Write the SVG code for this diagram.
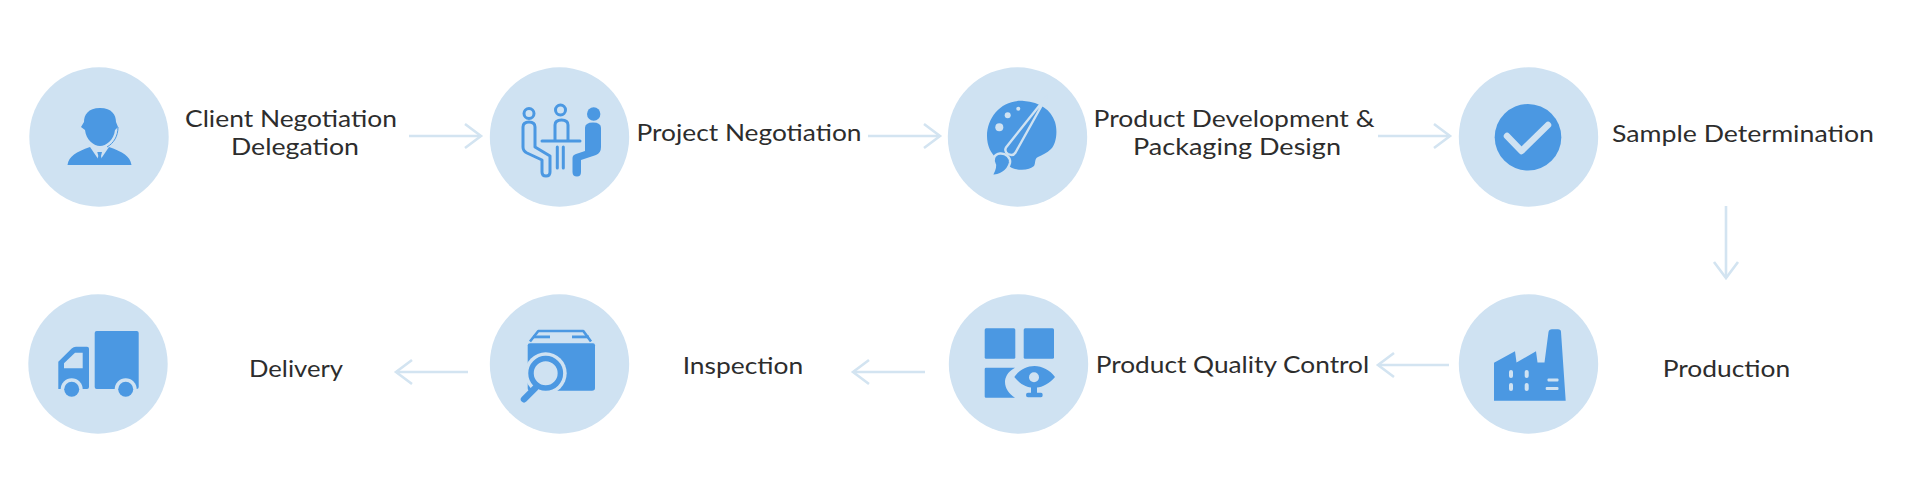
<svg xmlns="http://www.w3.org/2000/svg" width="1920" height="500" viewBox="0 0 1920 500">
<style>
.disc{fill:#cfe2f2}
.ic{fill:#4b98e2}
.lt{fill:#cfe2f2}
.ol{fill:none;stroke:#4b98e2;stroke-width:3;stroke-linejoin:round;stroke-linecap:round}
.lb{font-family:"Lato","Noto Sans",sans-serif;font-size:23.2px;fill:#2d2d2d}
.cn{fill:none;stroke:#d3e4f1;stroke-width:2.6;marker-end:url(#ah)}
</style>
<defs>
<marker id="ah" markerUnits="userSpaceOnUse" markerWidth="24" markerHeight="32" refX="19" refY="16" orient="auto" overflow="visible">
<path d="M3 4L19 16L3 28" fill="none" stroke="#d3e4f1" stroke-width="2.6"/>
</marker>
</defs>
<rect width="1920" height="500" fill="#ffffff"/>
<g id="connectors">
<path class="cn" d="M409 136H481"/>
<path class="cn" d="M868 136H940"/>
<path class="cn" d="M1378 136H1450"/>
<path class="cn" d="M1726 206V278"/>
<path class="cn" d="M1449 365H1378"/>
<path class="cn" d="M925 372H853"/>
<path class="cn" d="M468 372H396"/>
</g>
<g id="node-client-negotiation">
<circle class="disc" cx="99" cy="137" r="69.7"/>
<path class="ic" d="M100 108C88 108 84 115 84 122L81 127L85 130C86 140 94 146 100 146C106 146 114 140 115 130L118 127L116 122C116 115 112 108 100 108Z"/>
<path class="ic" d="M67.5 165C69 156 76 152 90 147L99.5 161L109 147C123 152 130 156 131.5 165Z"/>
<path class="ic" d="M97.3 152H102L101 156L102.5 162H96.5L98.3 156Z"/>
<path d="M118 127C118 136 114 143 107 147" fill="none" stroke="#4b98e2" stroke-width="1"/>
<text class="lb" x="185" y="127" textLength="212" lengthAdjust="spacingAndGlyphs">Client Negotiation</text>
<text class="lb" x="231" y="155" textLength="128" lengthAdjust="spacingAndGlyphs">Delegation</text>
</g>
<g id="node-project-negotiation">
<circle class="disc" cx="559.5" cy="137" r="69.7"/>
<circle class="ol" cx="529" cy="113.5" r="5"/>
<circle class="ol" cx="560.5" cy="110" r="5"/>
<circle class="ic" cx="593.7" cy="114" r="6.7"/>
<path class="ol" d="M523 127Q523 122 529 122Q535 122 535 127V147L550 156V172Q550 176 546 176Q542 176 542 172V160L527 153Q523 151 523 147Z"/>
<path class="ol" d="M555 140V125Q555 120 561.5 120Q568 120 568 125V140"/>
<path class="ol" d="M542 141H580M557.3 147V168M563.3 147V168"/>
<path class="ic" d="M585 128Q585 122.5 593 122.5Q601 122.5 601 128V147Q601 153 596 155L581 160V172Q581 176.5 577 176.5Q572.5 176.5 572.5 172V158Q572.5 155 576 154L585 151Z"/>
<text class="lb" x="636.5" y="140.5" textLength="225" lengthAdjust="spacingAndGlyphs">Project Negotiation</text>
</g>
<g id="node-product-development">
<circle class="disc" cx="1017.5" cy="137" r="69.7"/>
<path class="ic" d="M1024 101C1003 99 987 116 987 136C987 146 991 153 996 158L1012 168C1020 171 1030 170 1034 166C1036 163 1034 159 1038 157C1042 155 1047 153 1051 149C1056 144 1058 132 1055 122C1051 110 1040 102 1024 101Z"/>
<path class="ic" stroke="#cfe2f2" stroke-width="2.4" stroke-linejoin="round" d="M1047 96L1015.5 152.5Q1013 156.5 1008 154Q1004 151.5 1006 147.5Z"/>
<path class="ic" stroke="#cfe2f2" stroke-width="2.4" d="M1000 153.5C994 154 992 160 995 165C995 170 993 173 991 176C1000 176 1008 171 1010 163C1011 158 1006 153 1000 153.5Z"/>
<circle class="lt" cx="999.3" cy="127.3" r="4"/>
<circle class="lt" cx="1007.7" cy="115.3" r="3"/>
<circle class="lt" cx="1018.3" cy="108.7" r="2"/>
<text class="lb" x="1093.5" y="127" textLength="281" lengthAdjust="spacingAndGlyphs">Product Development &amp;</text>
<text class="lb" x="1133" y="155" textLength="208" lengthAdjust="spacingAndGlyphs">Packaging Design</text>
</g>
<g id="node-sample-determination">
<circle class="disc" cx="1528.5" cy="137" r="69.7"/>
<circle class="ic" cx="1528" cy="137.3" r="33.3"/>
<path d="M1507 136L1521.5 151L1548 125" fill="none" stroke="#cfe2f2" stroke-width="6.5" stroke-linecap="round" stroke-linejoin="round"/>
<text class="lb" x="1612" y="142" textLength="262" lengthAdjust="spacingAndGlyphs">Sample Determination</text>
</g>
<g id="node-production">
<circle class="disc" cx="1528.5" cy="364" r="69.7"/>
<path class="ic" d="M1494 400.7V362.7L1515 351.3L1516.5 362.5L1536 351.3L1537.5 362.5H1544.5L1548.5 332Q1549 329.3 1552 329.3H1558Q1561 329.3 1561 332L1565.7 400.7Z"/>
<rect class="lt" x="1509" y="370" width="4" height="8" rx="2"/>
<rect class="lt" x="1524.7" y="370" width="4" height="8" rx="2"/>
<rect class="lt" x="1509" y="383" width="4" height="8" rx="2"/>
<rect class="lt" x="1524.7" y="383" width="4" height="8" rx="2"/>
<rect class="lt" x="1547.5" y="378.5" width="11" height="3" rx="1"/>
<rect class="lt" x="1545.7" y="387" width="12.8" height="3" rx="1"/>
<text class="lb" x="1662.7" y="376.5" textLength="127.5" lengthAdjust="spacingAndGlyphs">Production</text>
</g>
<g id="node-product-quality-control">
<circle class="disc" cx="1018.5" cy="364" r="69.7"/>
<rect class="ic" x="984.7" y="328.3" width="30.6" height="30.4" rx="1.5"/>
<rect class="ic" x="1023.7" y="328.3" width="30.3" height="30.4" rx="1.5"/>
<path class="ic" d="M986 367.7H1015C1007 372 1005 378 1005 382C1005 388 1009 394 1015 397.7H986Q984.7 397.7 984.7 396.4V369Q984.7 367.7 986 367.7Z"/>
<path class="ic" d="M1014.3 377C1019 370 1027 366 1034.5 366C1042 366 1050 370 1055 377C1050 383 1042 387.5 1037 387.5V392.7H1041Q1042.7 392.7 1042.7 395Q1042.7 397.3 1041 397.3H1028Q1026 397.3 1026 395Q1026 392.7 1028 392.7H1031V387.5C1026 387.5 1019 383 1014.3 377Z"/>
<circle class="lt" cx="1034" cy="377.3" r="5"/>
<text class="lb" x="1095.7" y="372.5" textLength="273.5" lengthAdjust="spacingAndGlyphs">Product Quality Control</text>
</g>
<g id="node-inspection">
<circle class="disc" cx="559.5" cy="364" r="69.7"/>
<path class="ic" d="M527.7 345.3Q527.7 343.3 530 343.3H593Q595 343.3 595 345.3V388Q595 390.7 592 390.7H530Q527.7 390.7 527.7 388Z"/>
<path d="M530 341.5L538.3 331H583.3L591 341.5" fill="none" stroke="#4b98e2" stroke-width="2.6" stroke-linejoin="round"/>
<rect class="ic" x="533" y="335.5" width="17" height="2.8"/>
<rect class="ic" x="572" y="335.5" width="17" height="2.8"/>
<circle class="lt" cx="545.7" cy="373.3" r="21"/>
<circle cx="545.7" cy="373.3" r="14.7" fill="#cfe2f2" stroke="#4b98e2" stroke-width="5.5"/>
<path d="M535 388.3L524 399.3" fill="none" stroke="#4b98e2" stroke-width="6.5" stroke-linecap="round"/>
<text class="lb" x="682.7" y="373.5" textLength="120.5" lengthAdjust="spacingAndGlyphs">Inspection</text>
</g>
<g id="node-delivery">
<circle class="disc" cx="98" cy="364" r="69.7"/>
<rect class="ic" x="94.7" y="331" width="44" height="58" rx="2"/>
<path class="ic" d="M58.3 389V361.7L71.7 348.5Q73.5 346.7 76 346.7H87Q89 346.7 89 348.7V387Q89 389 87 389Z"/>
<path class="lt" d="M64 368.3V363.3L75 352.7H82.7V368.3Z"/>
<circle class="lt" cx="71.7" cy="389.3" r="11"/>
<circle class="ic" cx="71.7" cy="389.3" r="7.5"/>
<circle class="lt" cx="125.7" cy="389.3" r="11"/>
<circle class="ic" cx="125.7" cy="389.3" r="7.5"/>
<text class="lb" x="249" y="376.5" textLength="94" lengthAdjust="spacingAndGlyphs">Delivery</text>
</g>
</svg>
